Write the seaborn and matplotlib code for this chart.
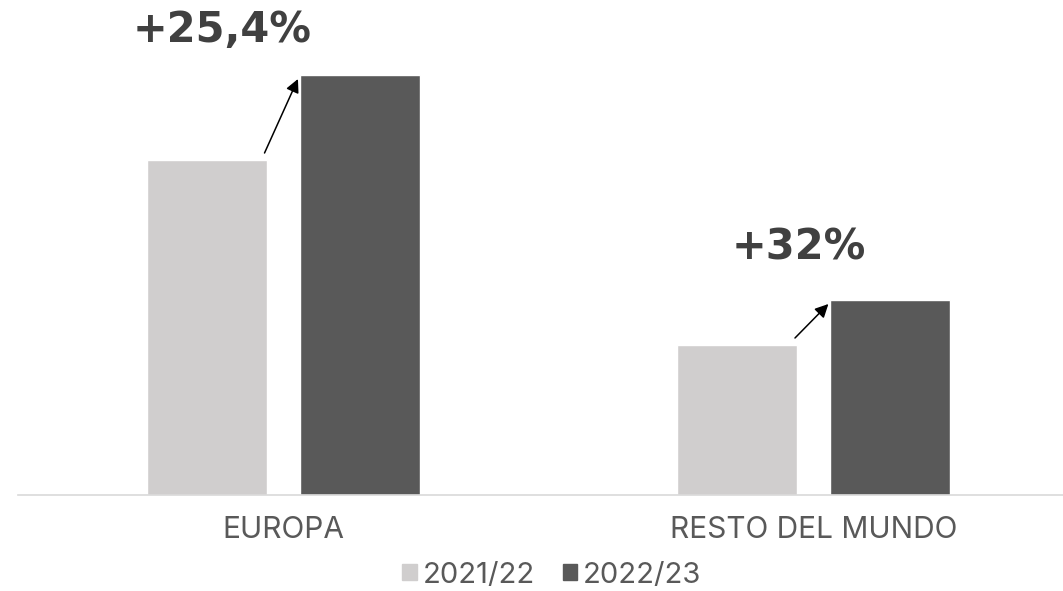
import pandas as pd
import matplotlib.pyplot as plt
import seaborn as sns
from matplotlib.patches import Patch, FancyArrowPatch

# Data (bar heights, arbitrary units)
regions = ['EUROPA', 'RESTO DEL MUNDO']
seasons = ['2021/22', '2022/23']
values_2122 = [335, 150]
values_2223 = [420, 195]
growth_labels = ['+25,4%', '+32%']

df = pd.DataFrame({
    'region': regions * 2,
    'season': [seasons[0]] * 2 + [seasons[1]] * 2,
    'value': values_2122 + values_2223,
})

sns.set_style('white')
plt.rcParams['font.family'] = ['Inter', 'DejaVu Sans']

fig = plt.figure(figsize=(10.63, 5.91), dpi=100)
ax = fig.add_axes([18 / 1063, 1 - 495 / 591, 1045 / 1063, 495 / 591])

palette = {'2021/22': '#D0CECE', '2022/23': '#595959'}
sns.barplot(data=df, x='region', y='value', hue='season', order=regions,
            hue_order=seasons, palette=palette, width=0.578, gap=0.218,
            saturation=1, legend=False, ax=ax)

ax.set_xlim(-0.5, 1.47)
ax.set_ylim(0, 495)
ax.set_xlabel('')
ax.set_ylabel('')
ax.set_yticks([])
for side in ['left', 'right', 'top']:
    ax.spines[side].set_visible(False)
ax.spines['bottom'].set_color('#D9D9D9')
ax.spines['bottom'].set_linewidth(1.2)
ax.tick_params(axis='x', length=0, pad=15, labelsize=21.5, labelcolor='#595959')

# growth arrows + labels, anchored on the bars
px = 1 / 531  # one pixel in category units
label_dx = [-61, -15]   # label offset from group centre, px
label_dy = [45, 52]     # label centre above the taller bar, px
bars_a = ax.containers[0]
bars_b = ax.containers[1]
for i, txt in enumerate(growth_labels):
    pa = bars_a[i]
    pb = bars_b[i]
    x0 = pa.get_x() + pa.get_width() - 2 * px
    y0 = pa.get_height() + 7
    x1 = pb.get_x() - 2 * px
    y1 = pb.get_height() - 4
    arr = FancyArrowPatch((x0, y0), (x1, y1), arrowstyle='-|>', color='black',
                          lw=1.1, mutation_scale=20, shrinkA=0, shrinkB=0)
    ax.add_patch(arr)
    xc = (pa.get_x() + pb.get_x() + pb.get_width()) / 2 + label_dx[i] * px
    ax.text(xc, pb.get_height() + label_dy[i], txt, ha='center', va='center',
            fontsize=30, fontweight='bold', color='#404040',
            family=['DejaVu Sans'])

# legend below
handles = [Patch(color=palette[s], label=s) for s in seasons]
fig.legend(handles=handles, loc='center', bbox_to_anchor=(552 / 1063, 1 - 575 / 591),
           ncol=2, frameon=False, fontsize=21, handlelength=0.5,
           handleheight=0.5, handletextpad=0.2, columnspacing=0.95,
           labelcolor='#595959', borderpad=0)

fig.savefig('out.png', dpi=100)
